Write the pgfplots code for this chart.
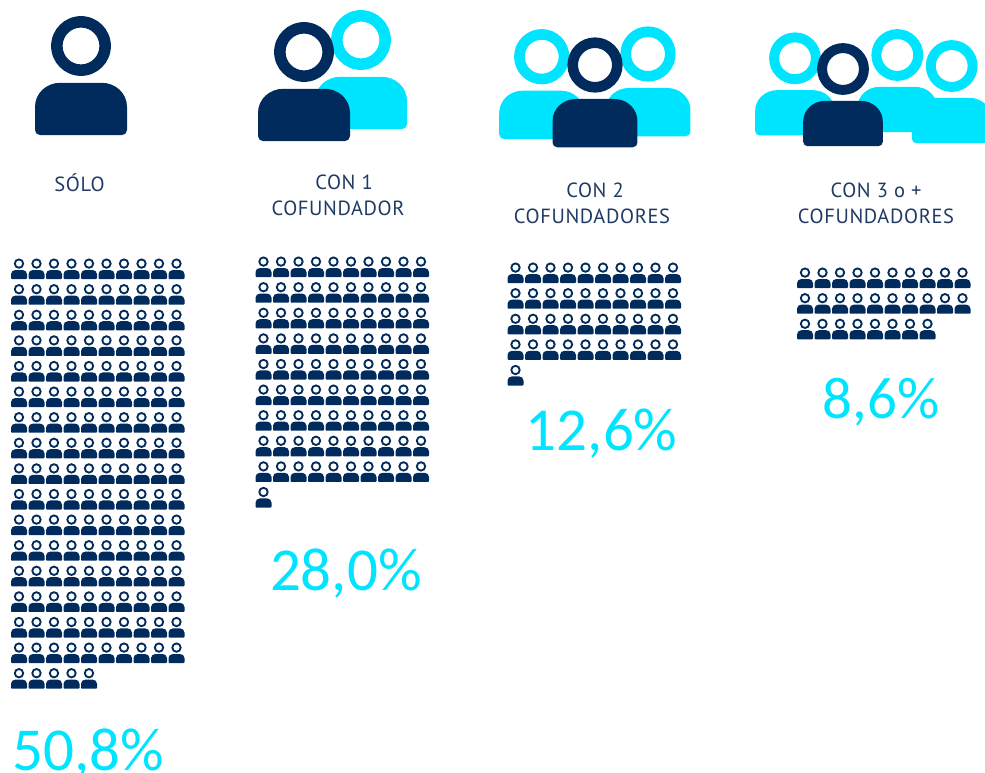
\documentclass[border=0pt]{standalone}
\usepackage{fontspec}
\setmainfont[LetterSpace=3]{PT Sans}
\newfontfamily\pctfont{Carlito}
\usepackage{pgfplots}
\pgfplotsset{compat=1.18}
\definecolor{navy}{HTML}{002B5C}
\definecolor{cyanbr}{HTML}{00E5FF}
\definecolor{labelc}{HTML}{1F3B63}
\tikzset{
  lab/.style={font=\fontsize{20.5}{22}\selectfont, text=labelc, anchor=center, inner sep=0pt},
  pct/.style={font=\pctfont\fontsize{61}{63}\selectfont, text=cyanbr, anchor=base, inner sep=0pt},
}

% person icon, origin at the centre of the head
\pgfdeclareplotmark{person}{%
  \pgfseteorule
  \pgfpathcircle{\pgfqpoint{0pt}{0pt}}{5.2pt}%
  \pgfpathcircle{\pgfqpoint{0pt}{0pt}}{3.2pt}%
  \pgfusepathqfill
  \pgfsetnonzerorule
  \pgfpathmoveto{\pgfqpoint{-8pt}{-14.6pt}}%
  \pgfpathlineto{\pgfqpoint{-8pt}{-10.6pt}}%
  \pgfpathcurveto{\pgfqpoint{-8pt}{-8.2pt}}{\pgfqpoint{-6pt}{-6.4pt}}{\pgfqpoint{-3.6pt}{-6.4pt}}%
  \pgfpathlineto{\pgfqpoint{3.6pt}{-6.4pt}}%
  \pgfpathcurveto{\pgfqpoint{6pt}{-6.4pt}}{\pgfqpoint{8pt}{-8.2pt}}{\pgfqpoint{8pt}{-10.6pt}}%
  \pgfpathlineto{\pgfqpoint{8pt}{-14.6pt}}%
  \pgfpathcurveto{\pgfqpoint{8pt}{-15.1pt}}{\pgfqpoint{7.6pt}{-15.5pt}}{\pgfqpoint{7.1pt}{-15.5pt}}%
  \pgfpathlineto{\pgfqpoint{-7.1pt}{-15.5pt}}%
  \pgfpathcurveto{\pgfqpoint{-7.6pt}{-15.5pt}}{\pgfqpoint{-8pt}{-15.1pt}}{\pgfqpoint{-8pt}{-14.6pt}}%
  \pgfpathclose
  \pgfusepathqfill
}

\begin{document}
\begin{tikzpicture}
\path[use as bounding box] (0,0) rectangle (985pt,773pt);
\clip (0,0) rectangle (985pt,773pt);
\begin{axis}[
  at={(0,0)}, anchor=south west,
  scale only axis, width=985pt, height=773pt,
  xmin=0, xmax=985, ymin=0, ymax=773, y dir=reverse,
  hide axis, clip=false,
]
% big icons
\addplot[only marks, mark=person, mark options={scale=5.75, fill=navy, draw=none}] coordinates {(81,46)};
\addplot[only marks, mark=person, mark options={scale=5.75, fill=cyanbr, draw=none}] coordinates {(361,40)};
\addplot[only marks, mark=person, mark options={scale=5.75, fill=navy, draw=none}] coordinates {(304,52)};
\addplot[only marks, mark=person, mark options={scale=5.31, fill=cyanbr, draw=none}] coordinates {(541.7,56.7) (648,54)};
\addplot[only marks, mark=person, mark options={scale=5.31, fill=navy, draw=none}] coordinates {(595,65)};
\addplot[only marks, mark=person, mark options={scale=4.98, fill=cyanbr, draw=none}] coordinates {(795,58.3) (897.3,55) (951.7,66)};
\addplot[only marks, mark=person, mark options={scale=4.98, fill=navy, draw=none}] coordinates {(843,69)};

% solo
\addplot[only marks, mark=person, mark options={fill=navy, draw=none}] coordinates {
(19,263.6) (36.5,263.6) (54,263.6) (71.5,263.6) (89,263.6) (106.5,263.6) (124,263.6) (141.5,263.6) (159,263.6) (176.5,263.6)
(19,289.2) (36.5,289.2) (54,289.2) (71.5,289.2) (89,289.2) (106.5,289.2) (124,289.2) (141.5,289.2) (159,289.2) (176.5,289.2)
(19,314.8) (36.5,314.8) (54,314.8) (71.5,314.8) (89,314.8) (106.5,314.8) (124,314.8) (141.5,314.8) (159,314.8) (176.5,314.8)
(19,340.4) (36.5,340.4) (54,340.4) (71.5,340.4) (89,340.4) (106.5,340.4) (124,340.4) (141.5,340.4) (159,340.4) (176.5,340.4)
(19,366) (36.5,366) (54,366) (71.5,366) (89,366) (106.5,366) (124,366) (141.5,366) (159,366) (176.5,366)
(19,391.6) (36.5,391.6) (54,391.6) (71.5,391.6) (89,391.6) (106.5,391.6) (124,391.6) (141.5,391.6) (159,391.6) (176.5,391.6)
(19,417.2) (36.5,417.2) (54,417.2) (71.5,417.2) (89,417.2) (106.5,417.2) (124,417.2) (141.5,417.2) (159,417.2) (176.5,417.2)
(19,442.8) (36.5,442.8) (54,442.8) (71.5,442.8) (89,442.8) (106.5,442.8) (124,442.8) (141.5,442.8) (159,442.8) (176.5,442.8)
(19,468.4) (36.5,468.4) (54,468.4) (71.5,468.4) (89,468.4) (106.5,468.4) (124,468.4) (141.5,468.4) (159,468.4) (176.5,468.4)
(19,494) (36.5,494) (54,494) (71.5,494) (89,494) (106.5,494) (124,494) (141.5,494) (159,494) (176.5,494)
(19,519.6) (36.5,519.6) (54,519.6) (71.5,519.6) (89,519.6) (106.5,519.6) (124,519.6) (141.5,519.6) (159,519.6) (176.5,519.6)
(19,545.2) (36.5,545.2) (54,545.2) (71.5,545.2) (89,545.2) (106.5,545.2) (124,545.2) (141.5,545.2) (159,545.2) (176.5,545.2)
(19,570.8) (36.5,570.8) (54,570.8) (71.5,570.8) (89,570.8) (106.5,570.8) (124,570.8) (141.5,570.8) (159,570.8) (176.5,570.8)
(19,596.4) (36.5,596.4) (54,596.4) (71.5,596.4) (89,596.4) (106.5,596.4) (124,596.4) (141.5,596.4) (159,596.4) (176.5,596.4)
(19,622) (36.5,622) (54,622) (71.5,622) (89,622) (106.5,622) (124,622) (141.5,622) (159,622) (176.5,622)
(19,647.6) (36.5,647.6) (54,647.6) (71.5,647.6) (89,647.6) (106.5,647.6) (124,647.6) (141.5,647.6) (159,647.6) (176.5,647.6)
(19,673.2) (36.5,673.2) (54,673.2) (71.5,673.2) (89,673.2)
};
% con 1
\addplot[only marks, mark=person, mark options={fill=navy, draw=none}] coordinates {
(263.5,261.6) (281,261.6) (298.5,261.6) (316,261.6) (333.5,261.6) (351,261.6) (368.5,261.6) (386,261.6) (403.5,261.6) (421,261.6)
(263.5,287.2) (281,287.2) (298.5,287.2) (316,287.2) (333.5,287.2) (351,287.2) (368.5,287.2) (386,287.2) (403.5,287.2) (421,287.2)
(263.5,312.8) (281,312.8) (298.5,312.8) (316,312.8) (333.5,312.8) (351,312.8) (368.5,312.8) (386,312.8) (403.5,312.8) (421,312.8)
(263.5,338.4) (281,338.4) (298.5,338.4) (316,338.4) (333.5,338.4) (351,338.4) (368.5,338.4) (386,338.4) (403.5,338.4) (421,338.4)
(263.5,364) (281,364) (298.5,364) (316,364) (333.5,364) (351,364) (368.5,364) (386,364) (403.5,364) (421,364)
(263.5,389.6) (281,389.6) (298.5,389.6) (316,389.6) (333.5,389.6) (351,389.6) (368.5,389.6) (386,389.6) (403.5,389.6) (421,389.6)
(263.5,415.2) (281,415.2) (298.5,415.2) (316,415.2) (333.5,415.2) (351,415.2) (368.5,415.2) (386,415.2) (403.5,415.2) (421,415.2)
(263.5,440.8) (281,440.8) (298.5,440.8) (316,440.8) (333.5,440.8) (351,440.8) (368.5,440.8) (386,440.8) (403.5,440.8) (421,440.8)
(263.5,466.4) (281,466.4) (298.5,466.4) (316,466.4) (333.5,466.4) (351,466.4) (368.5,466.4) (386,466.4) (403.5,466.4) (421,466.4)
(263.5,492)
};
% con 2
\addplot[only marks, mark=person, mark options={fill=navy, draw=none}] coordinates {
(515.5,267.6) (533,267.6) (550.5,267.6) (568,267.6) (585.5,267.6) (603,267.6) (620.5,267.6) (638,267.6) (655.5,267.6) (673,267.6)
(515.5,293.2) (533,293.2) (550.5,293.2) (568,293.2) (585.5,293.2) (603,293.2) (620.5,293.2) (638,293.2) (655.5,293.2) (673,293.2)
(515.5,318.8) (533,318.8) (550.5,318.8) (568,318.8) (585.5,318.8) (603,318.8) (620.5,318.8) (638,318.8) (655.5,318.8) (673,318.8)
(515.5,344.4) (533,344.4) (550.5,344.4) (568,344.4) (585.5,344.4) (603,344.4) (620.5,344.4) (638,344.4) (655.5,344.4) (673,344.4)
(515.5,370)
};
% con 3 o +
\addplot[only marks, mark=person, mark options={fill=navy, draw=none}] coordinates {
(805,272.6) (822.5,272.6) (840,272.6) (857.5,272.6) (875,272.6) (892.5,272.6) (910,272.6) (927.5,272.6) (945,272.6) (962.5,272.6)
(805,298.2) (822.5,298.2) (840,298.2) (857.5,298.2) (875,298.2) (892.5,298.2) (910,298.2) (927.5,298.2) (945,298.2) (962.5,298.2)
(805,323.8) (822.5,323.8) (840,323.8) (857.5,323.8) (875,323.8) (892.5,323.8) (910,323.8) (927.5,323.8)
};

\node[lab] at (axis cs:79.5,183) {SÓLO};
\node[lab] at (axis cs:344,182) {CON 1};
\node[lab] at (axis cs:338,208) {COFUNDADOR};
\node[lab] at (axis cs:595,190) {CON 2};
\node[lab] at (axis cs:592,216) {COFUNDADORES};
\node[lab] at (axis cs:876,190) {CON 3 o +};
\node[lab] at (axis cs:876,216) {COFUNDADORES};

\node[pct] at (axis cs:88,770) {50,8\%};
\node[pct] at (axis cs:345.8,590.7) {28,0\%};
\node[pct] at (axis cs:601.7,450.7) {12,6\%};
\node[pct,font=\pctfont\fontsize{59}{61}\selectfont] at (axis cs:880.8,418) {8,6\%};
\end{axis}
\end{tikzpicture}
\end{document}
